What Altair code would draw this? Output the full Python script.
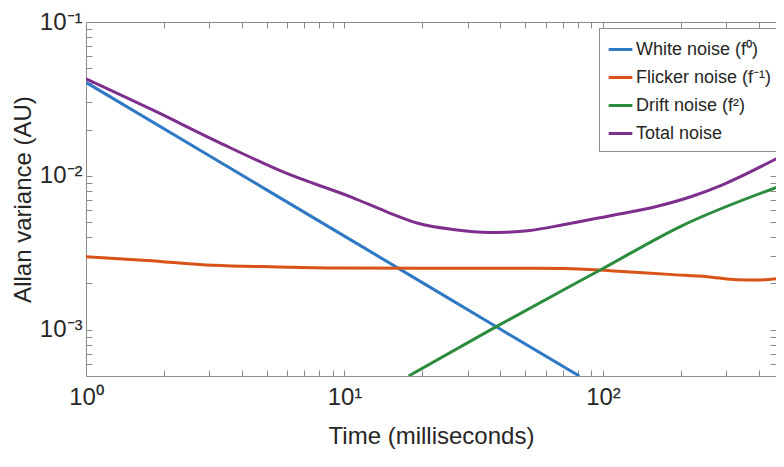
import altair as alt
import pandas as pd

FONT = "Liberation Sans"
TEXT = "#262626"
GREY = "#8c8c8c"

series_names = ["White noise (f⁰)", "Flicker noise (f⁻¹)", "Drift noise (f²)", "Total noise"]
series_colors = ["#2f78c4", "#d95319", "#2a8c3c", "#7e2f8e"]

white_t = [1, 3, 12.1, 40, 81]
white_v = [0.0405, 0.0135, 0.00335, 0.00101, 0.0005]

flicker_t = [1, 1.72, 3.1, 5.6, 9.6, 20, 40, 70, 89, 106, 186, 253, 330, 393, 500]
flicker_v = [0.00298, 0.00282, 0.00262, 0.00256, 0.00252, 0.00251, 0.00251, 0.00250,
             0.00246, 0.00242, 0.00228, 0.00221, 0.00211, 0.00210, 0.00217]

drift_t = [17.7, 38.8, 100, 200, 500]
drift_v = [0.0005, 0.00105, 0.0025, 0.0047, 0.00875]

total_t = [1, 1.81, 3.28, 5.95, 10.8, 14.5, 19.4, 26.2, 36.5, 42.3, 52.2, 70.2, 105.6,
           161, 220, 290, 500]
total_v = [0.0427, 0.0268, 0.01644, 0.0104, 0.0072, 0.00586, 0.0049, 0.00448, 0.00428,
           0.00430, 0.00442, 0.00481, 0.00549, 0.00632, 0.00734, 0.00875, 0.0137]

x_ticks = [2, 3, 4, 5, 6, 7, 8, 9, 10, 20, 30, 40, 50, 60, 70, 80, 90, 100, 200, 300, 400]
y_ticks = [0.0006, 0.0007, 0.0008, 0.0009, 0.001, 0.002, 0.003, 0.004, 0.005, 0.006, 0.007,
           0.008, 0.009, 0.01, 0.02, 0.03, 0.04, 0.05, 0.06, 0.07, 0.08, 0.09]
x_labels = [1, 10, 100]
y_labels = [0.001, 0.01, 0.1]

rows = []
for name, ts, vs in zip(series_names, [white_t, flicker_t, drift_t, total_t],
                        [white_v, flicker_v, drift_v, total_v]):
    for t, v in zip(ts, vs):
        rows.append({"series": name, "t": t, "v": v})
df = pd.DataFrame(rows)

x_scale = alt.Scale(type="log", domain=[1, 467], nice=False)
y_scale = alt.Scale(type="log", domain=[0.0005, 0.1], nice=False)
color_scale = alt.Scale(domain=series_names, range=series_colors)

lab_common = dict(labelFont=FONT, labelFontSize=24, labelColor=TEXT, titleFont=FONT,
                  titleFontSize=24, titleColor=TEXT, titleFontWeight="normal", domain=False,
                  grid=False, ticks=False, tickSize=0, labelFlush=False, labelOverlap=False)

tick_common = dict(labels=False, ticks=True, tickSize=6, tickColor=GREY, tickWidth=1,
                   offset=-6, domain=False, grid=False, title=None)

lines = alt.Chart(df).mark_line(strokeWidth=3, interpolate="monotone", clip=True).encode(
    x=alt.X("t:Q", scale=x_scale, axis=alt.Axis(
        orient="bottom", values=x_labels,
        labelExpr="datum.value < 5 ? '10⁰' : datum.value < 50 ? '10¹' : '10²'",
        labelPadding=9, title="Time (milliseconds)", titlePadding=15, **lab_common)),
    y=alt.Y("v:Q", scale=y_scale, axis=alt.Axis(
        orient="left", values=y_labels,
        labelExpr="datum.value < 0.005 ? '10⁻³' : datum.value < 0.05 ? '10⁻²' : '10⁻¹'",
        labelPadding=4, title="Allan variance (AU)", titlePadding=4, **lab_common)),
    color=alt.Color("series:N", scale=color_scale, legend=alt.Legend(
        title=None, orient="none", legendX=513, legendY=6, direction="vertical",
        symbolType="stroke", symbolSize=560, symbolStrokeWidth=3,
        labelFont=FONT, labelFontSize=18, labelColor=TEXT, labelLimit=400,
        strokeColor=GREY, fillColor="white", padding=8, rowPadding=5, labelOffset=2)),
)

ticks_bl = alt.Chart(df).mark_point(opacity=0).encode(
    x=alt.X("t:Q", scale=x_scale, axis=alt.Axis(orient="bottom", values=x_ticks, **tick_common)),
    y=alt.Y("v:Q", scale=y_scale, axis=alt.Axis(orient="left", values=y_ticks, **tick_common)),
)

ticks_tr = alt.Chart(df).mark_point(opacity=0).encode(
    x=alt.X("t:Q", scale=x_scale, axis=alt.Axis(orient="top", values=x_ticks, **tick_common)),
    y=alt.Y("v:Q", scale=y_scale, axis=alt.Axis(orient="right", values=y_ticks, **tick_common)),
)

chart = alt.layer(ticks_bl, ticks_tr, lines).resolve_axis(
    x="independent", y="independent"
).properties(
    width=690, height=354,
    autosize=alt.AutoSizeParams(type="none"),
    padding={"left": 78, "top": 14, "right": 0, "bottom": 85},
    background="white",
).configure_view(stroke=GREY, strokeWidth=1)

chart.save("out.html", embed_options={"renderer": "svg", "actions": False})
